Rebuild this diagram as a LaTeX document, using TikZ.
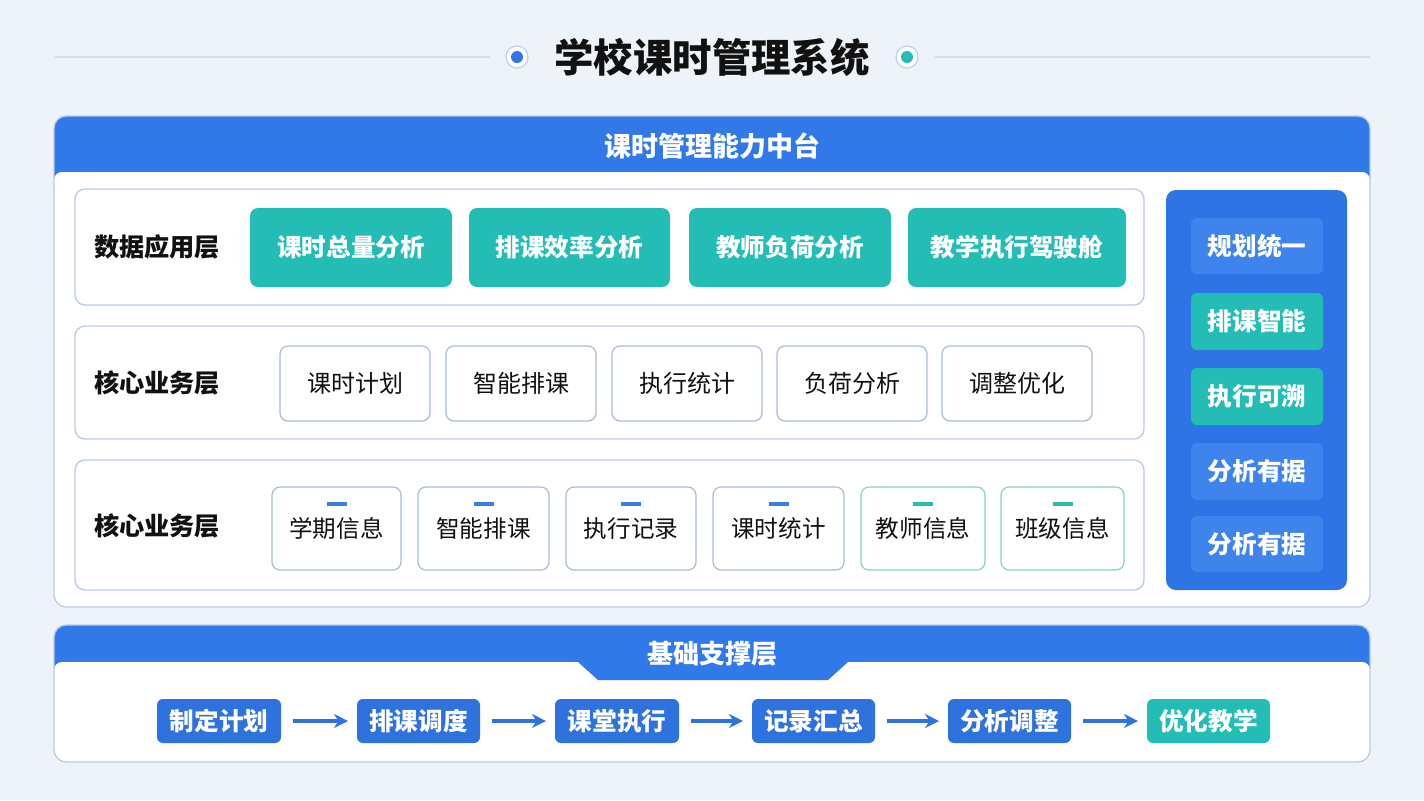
\documentclass[tikz,border=0pt]{standalone}
\usepackage{fontspec}
\setmainfont{Noto Sans CJK SC}
\usetikzlibrary{arrows.meta,calc}
\definecolor{bg}{HTML}{EEF3FA}
\definecolor{mainblue}{HTML}{3179E9}
\definecolor{teal1}{HTML}{24BDB6}
\definecolor{flowblue}{HTML}{2E72DE}
\definecolor{panelblue}{HTML}{2F74E4}
\definecolor{panellight}{HTML}{3E84EC}
\definecolor{rowborder}{HTML}{BACDE5}
\definecolor{coreborder}{HTML}{A8BCD6}
\definecolor{tealborder}{HTML}{86D0CD}
\definecolor{tickblue}{HTML}{3A7EE2}
\definecolor{tickteal}{HTML}{2DBDB7}
\definecolor{ink}{HTML}{111111}
\definecolor{titleline}{HTML}{D3DDEA}
\definecolor{ringcol}{HTML}{BFD2EC}
\newcommand{\lowtext}[1]{\raisebox{-1.5pt}{#1}}
\tikzset{
  wh/.style 2 args={minimum width=#1*0.5pt, minimum height=#2*0.5pt, inner sep=0pt, outer sep=0pt},
  rowbox/.style={draw=rowborder, line width=0.7pt, fill=white, rounded corners=5pt},
  tealbox/.style={fill=teal1, rounded corners=4pt, text=white, font=\fontsize{12.3}{14}\selectfont\bfseries},
  corebox/.style={draw=coreborder, line width=0.6pt, fill=white, rounded corners=4pt, text=ink, font=\fontsize{12}{14}\selectfont},
  infobox/.style={draw=coreborder, line width=0.6pt, fill=white, rounded corners=4pt, text=ink, font=\fontsize{11.8}{14}\selectfont},
  lbl/.style={text=ink, font=\fontsize{12.6}{14}\selectfont\bfseries},
  sidebox/.style={rounded corners=3pt, text=white, font=\fontsize{12.3}{14}\selectfont\bfseries},
  flowbox/.style={fill=flowblue, rounded corners=3pt, text=white, font=\fontsize{12.3}{14}\selectfont\bfseries},
  flowarrow/.style={-{Stealth[length=7pt,width=7pt]}, line width=1.8pt, draw=flowblue, shorten <=6pt, shorten >=4.5pt},
  tickmark/.style={line width=2pt},
}
\begin{document}
\begin{tikzpicture}[x=0.5pt,y=-0.5pt]
\useasboundingbox (0,0) rectangle (1424,800);
\fill[bg] (0,0) rectangle (1424,800);

% title
\draw[titleline, line width=0.6pt] (55,57) -- (490,57);
\draw[titleline, line width=0.6pt] (935,57) -- (1370,57);
\node[text=ink, font=\fontsize{19.7}{22}\selectfont\bfseries] (title) at (712,57) {学校课时管理系统};
\node[circle, draw=ringcol, line width=0.6pt, fill=white, wh={22}{22}] (c1) at (517,57) {};
\fill[mainblue] (c1) circle (6);
\node[circle, draw=ringcol, line width=0.6pt, fill=white, wh={22}{22}] (c2) at (907,57) {};
\fill[teal1] (c2) circle (6);

% main container
\fill[white, rounded corners=6pt] (54,116) rectangle (1370,607);
\fill[mainblue, rounded corners=6pt] (54,116) rectangle (1370,200);
\fill[white, rounded corners=4pt] (54,172) rectangle (1370,607);
\node[draw=rowborder, line width=0.7pt, rounded corners=6pt, wh={1316}{491}] (main) at (712,361.5) {};
\node[text=white, font=\fontsize{13.5}{15}\selectfont\bfseries] (mainhead) at (712,146) {课时管理能力中台};

% row 1
\node[rowbox, wh={1069}{116}] (row1) at (609.5,247) {};
\node[lbl] (l1) at (157,247) {数据应用层};
\node[tealbox, wh={202}{79}] (a1) at (351,247.5) {课时总量分析};
\node[tealbox, wh={201}{79}] (a2) at (569.5,247.5) {排课效率分析};
\node[tealbox, wh={202}{79}] (a3) at (790,247.5) {教师负荷分析};
\node[tealbox, wh={218}{79}] (a4) at (1017,247.5) {教学执行驾驶舱};

% row 2
\node[rowbox, wh={1069}{113}] (row2) at (609.5,382.5) {};
\node[lbl] (l2) at (157,383) {核心业务层};
\node[corebox, wh={150}{75}] (b1) at (355,383.5) {课时计划};
\node[corebox, wh={150}{75}] (b2) at (521,383.5) {智能排课};
\node[corebox, wh={150}{75}] (b3) at (687,383.5) {执行统计};
\node[corebox, wh={150}{75}] (b4) at (852,383.5) {负荷分析};
\node[corebox, wh={150}{75}] (b5) at (1017,383.5) {调整优化};

% row 3
\node[rowbox, wh={1069}{130}] (row3) at (609.5,525) {};
\node[lbl] (l3) at (157,526) {核心业务层};
\node[infobox, wh={129}{83}] (d1) at (336.5,528.5) {\lowtext{学期信息}};
\node[infobox, wh={131}{83}] (d2) at (483.5,528.5) {\lowtext{智能排课}};
\node[infobox, wh={130}{83}] (d3) at (631,528.5) {\lowtext{执行记录}};
\node[infobox, wh={131}{83}] (d4) at (778.5,528.5) {\lowtext{课时统计}};
\node[infobox, draw=tealborder, wh={124}{83}] (d5) at (923,528.5) {\lowtext{教师信息}};
\node[infobox, draw=tealborder, wh={123}{83}] (d6) at (1062.5,528.5) {\lowtext{班级信息}};
\foreach \n in {d1,d2,d3,d4}{
  \draw[tickmark, tickblue] ($(\n.north)+(-10,17)$) -- ($(\n.north)+(10,17)$);
}
\foreach \n in {d5,d6}{
  \draw[tickmark, tickteal] ($(\n.north)+(-10,17)$) -- ($(\n.north)+(10,17)$);
}

% right panel
\node[fill=panelblue, rounded corners=5pt, wh={181}{400}] (panel) at (1256.5,390) {};
\node[sidebox, fill=panellight, wh={132}{56}] (s1) at (1257,246) {规划统一};
\node[sidebox, fill=teal1, wh={132}{57}] (s2) at (1257,321.5) {排课智能};
\node[sidebox, fill=teal1, wh={132}{57}] (s3) at (1257,396.5) {执行可溯};
\node[sidebox, fill=panellight, wh={132}{57}] (s4) at (1257,471.5) {分析有据};
\node[sidebox, fill=panellight, wh={132}{56}] (s5) at (1257,544) {分析有据};

% bottom container
\fill[white, rounded corners=6pt] (54,625) rectangle (1370,762);
\fill[mainblue, rounded corners=6pt] (54,625) rectangle (1370,680);
\fill[white, rounded corners=4pt] (54,662) rectangle (1370,762);
\fill[mainblue] (570,661) -- (578,662) -- (598,680) -- (828,680) -- (848,662) -- (856,661) -- cycle;
\node[draw=rowborder, line width=0.7pt, rounded corners=6pt, wh={1316}{137}] (base) at (712,693.5) {};
\node[text=white, font=\fontsize{13}{15}\selectfont\bfseries] (basehead) at (712,654) {基础支撑层};

\node[flowbox, wh={124}{44}] (f1) at (219,721) {制定计划};
\node[flowbox, wh={123}{44}] (f2) at (418.5,721) {排课调度};
\node[flowbox, wh={124}{44}] (f3) at (617,721) {课堂执行};
\node[flowbox, wh={123}{44}] (f4) at (813.5,721) {记录汇总};
\node[flowbox, wh={123}{44}] (f5) at (1009.5,721) {分析调整};
\node[flowbox, fill=teal1, wh={123}{44}] (f6) at (1208.5,721) {优化教学};
\draw[flowarrow] (f1) -- (f2);
\draw[flowarrow] (f2) -- (f3);
\draw[flowarrow] (f3) -- (f4);
\draw[flowarrow] (f4) -- (f5);
\draw[flowarrow] (f5) -- (f6);
\end{tikzpicture}
\end{document}
